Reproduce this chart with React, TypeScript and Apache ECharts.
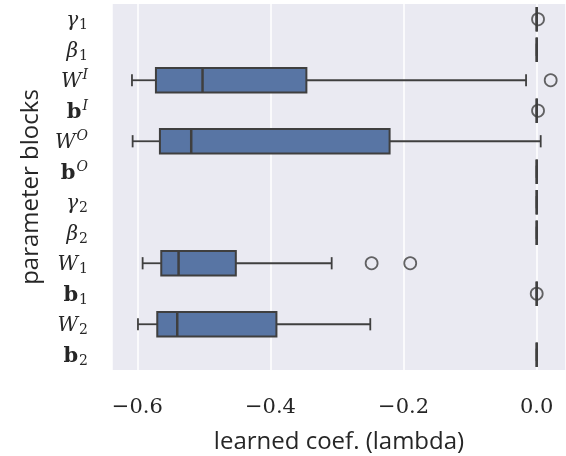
import React, { useEffect, useRef } from 'react';
import * as echarts from 'echarts';

// categories: base, then "_" (subscript) or "^" (superscript) and the script
const categories = ['γ_1', 'β_1', 'W^I', 'b^I', 'W^O', 'b^O', 'γ_2', 'β_2', 'W_1', 'b_1', 'W_2', 'b_2'];
const whiskerLow = [0, 0, -0.608, 0, -0.607, 0, 0, 0, -0.592, 0, -0.599, 0];
const q1 = [0, 0, -0.572, 0, -0.566, 0, 0, 0, -0.564, 0, -0.57, 0];
const median = [0, 0, -0.502, 0, -0.519, 0, 0, 0, -0.538, 0, -0.54, 0];
const q3 = [0, 0, -0.346, 0, -0.221, 0, 0, 0, -0.452, 0, -0.391, 0];
const whiskerHigh = [0, 0, -0.016, 0, 0.006, 0, 0, 0, -0.308, 0, -0.25, 0];
const outlierCategory = ['γ_1', 'W^I', 'b^I', 'W_1', 'W_1', 'b_1'];
const outlierValue = [0.002, 0.021, 0.002, -0.248, -0.19, 0.0];

const xMin = -0.638;
const xMax = 0.044;

const BOX_FILL = '#5875A4';
const LINE = '#3f3f3f';
const TEXT = '#262626';

function labelRich(cat: string): string {
  const m = cat.match(/^(.)([_^])(.)$/);
  if (!m) return cat;
  const [, base, kind, script] = m;
  const baseStyle = base === 'b' ? 'bf' : 'it';
  const scriptStyle = kind === '_' ? 'sub' : 'sup';
  return `{${baseStyle}|${base}}{${scriptStyle}|${script}}`;
}

export default function App() {
  const ref = useRef<HTMLDivElement>(null);
  useEffect(() => {
    if (!ref.current) return;
    const chart = echarts.init(ref.current, undefined, { renderer: 'svg' });
    const boxData = categories.map((c, i) => [i, whiskerLow[i], q1[i], median[i], q3[i], whiskerHigh[i]]);
    const outData = outlierValue.map((v, i) => [v, categories.indexOf(outlierCategory[i])]);
    chart.setOption({
      animation: false,
      grid: { left: 112, right: 0, top: 4, bottom: 82, backgroundColor: '#EAEAF2', show: true, borderWidth: 0 },
      xAxis: {
        type: 'value',
        min: xMin,
        max: xMax,
        splitNumber: 4,
        axisLine: { show: false },
        axisTick: { show: false },
        splitLine: { show: true, lineStyle: { color: '#ffffff', width: 1.5 } },
        axisLabel: {
          showMinLabel: false,
          showMaxLabel: false,
          margin: 25,
          fontFamily: 'DejaVu Serif',
          fontSize: 21,
          color: TEXT,
          formatter: (v: number) => (v < -1e-9 ? '−' : '') + Math.abs(v).toFixed(1),
        },
        name: 'learned coef. (lambda)',
        nameLocation: 'middle',
        nameGap: 57,
        nameTextStyle: { fontFamily: 'Open Sans', fontSize: 24, color: TEXT },
      },
      yAxis: {
        type: 'category',
        data: categories,
        inverse: true,
        axisLine: { show: false },
        axisTick: { show: false },
        splitLine: { show: false },
        axisLabel: {
          margin: 24,
          formatter: (v: string) => labelRich(v),
          rich: {
            it: { fontFamily: 'DejaVu Serif', fontStyle: 'italic', fontSize: 20, color: TEXT },
            bf: { fontFamily: 'DejaVu Serif', fontWeight: 'bold', fontSize: 21, color: TEXT },
            sub: { fontFamily: 'DejaVu Serif', fontSize: 14, color: TEXT, padding: [10, 0, 0, 1] },
            sup: { fontFamily: 'DejaVu Serif', fontStyle: 'italic', fontSize: 14, color: TEXT, padding: [0, 0, 12, 1] },
          },
        },
        name: 'parameter blocks',
        nameLocation: 'middle',
        nameGap: 72,
        nameRotate: 90,
        nameTextStyle: { fontFamily: 'Open Sans', fontSize: 24, color: TEXT },
      },
      series: [
        {
          type: 'custom',
          data: boxData,
          encode: { x: [1, 2, 3, 4, 5], y: 0 },
          z: 2,
          renderItem: (params: any, api: any) => {
            const ci = api.value(0);
            const lo = api.coord([api.value(1), ci]);
            const a = api.coord([api.value(2), ci]);
            const m = api.coord([api.value(3), ci]);
            const b = api.coord([api.value(4), ci]);
            const hi = api.coord([api.value(5), ci]);
            const band = api.size([0, 1])[1];
            const h = band * 0.8;
            const y = a[1];
            const cap = h / 4;
            const ls = { stroke: LINE, lineWidth: 1.8 };
            return {
              type: 'group',
              children: [
                { type: 'line', shape: { x1: lo[0], y1: y, x2: a[0], y2: y }, style: ls },
                { type: 'line', shape: { x1: b[0], y1: y, x2: hi[0], y2: y }, style: ls },
                { type: 'line', shape: { x1: lo[0], y1: y - cap, x2: lo[0], y2: y + cap }, style: ls },
                { type: 'line', shape: { x1: hi[0], y1: y - cap, x2: hi[0], y2: y + cap }, style: ls },
                {
                  type: 'rect',
                  shape: { x: a[0], y: y - h / 2, width: b[0] - a[0], height: h },
                  style: { fill: BOX_FILL, stroke: LINE, lineWidth: 2 },
                },
                { type: 'line', shape: { x1: m[0], y1: y - h / 2, x2: m[0], y2: y + h / 2 }, style: { stroke: LINE, lineWidth: 2.5 } },
              ],
            };
          },
        },
        {
          type: 'scatter',
          data: outData,
          z: 3,
          symbol: 'circle',
          symbolSize: 12,
          itemStyle: { color: 'rgba(0,0,0,0)', borderColor: LINE, borderWidth: 1.8 },
        },
      ],
    });
    return () => chart.dispose();
  }, []);
  return <div ref={ref} style={{ position: 'fixed', left: 0, top: 0, width: 566, height: 456 }} />;
}
